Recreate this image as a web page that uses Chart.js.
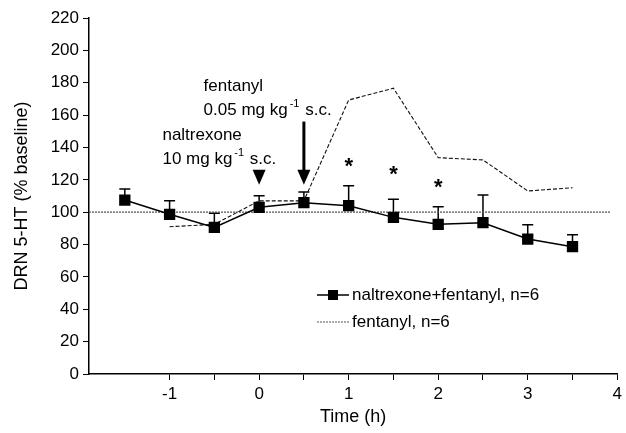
<!DOCTYPE html>
<html>
<head>
<meta charset="utf-8">
<script src="https://cdn.jsdelivr.net/npm/chart.js@4/dist/chart.umd.min.js"></script>
<style>
  html, body { margin: 0; padding: 0; background: #fff; }
  #wrap { width: 626px; height: 433px; }
</style>
</head>
<body>
<div id="wrap"><canvas id="c" width="626" height="433"></canvas></div>
<script>
// ---- Data ----
const timeNF = [-1.5, -1, -0.5, 0, 0.5, 1, 1.5, 2, 2.5, 3, 3.5];
const meanNF = [107.5, 98.7, 90.6, 103, 105.9, 104, 96.8, 92.5, 93.5, 83.4, 78.7];
const semNF  = [6.8, 8.4, 8.7, 7.2, 6.6, 12.4, 11.2, 10.9, 17.1, 8.9, 7.3];

const timeF = [-1, -0.5, 0, 0.5, 1, 1.5, 2, 2.5, 3, 3.5];
const meanF = [91, 92.5, 107, 107, 169.3, 176.6, 133.7, 132.3, 113.1, 115.1];

const baselineX = [-1.9, 3.92];
const baselineY = [100, 100];

const xTickValues = [-1, -0.5, 0, 0.5, 1, 1.5, 2, 2.5, 3, 3.5, 4];
const yTickStep = 20;

const labelNF = 'naltrexone+fentanyl, n=6';
const labelF = 'fentanyl, n=6';

// annotation anchors (data coordinates)
const asteriskX = [1, 1.5, 2];
const asteriskY = [131, 126, 118];
const arrowX = [0, 0.5];           // triangle at 0, arrow at 0.5
const arrowTipY = 117;

const FONT = '"Liberation Sans", Arial, Helvetica, sans-serif';

const toXY = (xs, ys) => xs.map((x, i) => ({ x: x, y: ys[i] }));

const annotPlugin = {
  id: 'annot',
  beforeDatasetsDraw(chart) {
    const { ctx } = chart;
    const xs = chart.scales.x, ys = chart.scales.y;
    // error bars (upper only)
    ctx.save();
    ctx.strokeStyle = '#000';
    ctx.lineWidth = 1.5;
    timeNF.forEach((t, i) => {
      const px = xs.getPixelForValue(t);
      const p0 = ys.getPixelForValue(meanNF[i]);
      const p1 = ys.getPixelForValue(meanNF[i] + semNF[i]);
      ctx.beginPath();
      ctx.moveTo(px, p0); ctx.lineTo(px, p1);
      ctx.moveTo(px - 5.5, p1); ctx.lineTo(px + 5.5, p1);
      ctx.stroke();
    });
    ctx.restore();
  },
  afterDraw(chart) {
    const { ctx } = chart;
    const xs = chart.scales.x, ys = chart.scales.y;
    ctx.save();
    ctx.fillStyle = '#000';
    ctx.strokeStyle = '#000';

    // arrows
    const tipPx = ys.getPixelForValue(arrowTipY);
    arrowX.forEach((t, i) => {
      const px = xs.getPixelForValue(t);
      ctx.beginPath();
      ctx.moveTo(px - 6.5, tipPx - 15);
      ctx.lineTo(px + 6.5, tipPx - 15);
      ctx.lineTo(px, tipPx);
      ctx.closePath();
      ctx.fill();
      if (i === 1) {
        ctx.lineWidth = 3;
        ctx.beginPath();
        ctx.moveTo(px, ys.getPixelForValue(156));
        ctx.lineTo(px, tipPx - 12);
        ctx.stroke();
      }
    });

    // text annotations
    ctx.textBaseline = 'middle';
    ctx.textAlign = 'left';
    const drawDose = (x, y, pre, post) => {
      ctx.font = '17px ' + FONT;
      ctx.fillText(pre, x, y);
      let w = ctx.measureText(pre).width + 2;
      ctx.font = '11px ' + FONT;
      ctx.fillText('-1', x + w, y - 6);
      w += ctx.measureText('-1').width + 1;
      ctx.font = '17px ' + FONT;
      ctx.fillText(post, x + w, y);
    };
    ctx.font = '17px ' + FONT;
    const fx = xs.getPixelForValue(-0.62);
    ctx.fillText('fentanyl', fx, ys.getPixelForValue(177.6));
    drawDose(fx, ys.getPixelForValue(163.2), '0.05 mg kg', ' s.c.');
    const nx = xs.getPixelForValue(-1.08);
    ctx.font = '17px ' + FONT;
    ctx.fillText('naltrexone', nx, ys.getPixelForValue(147.7));
    drawDose(nx, ys.getPixelForValue(132.7), '10 mg kg', ' s.c.');

    // asterisks
    ctx.textAlign = 'center';
    ctx.font = 'bold 22px ' + FONT;
    asteriskX.forEach((t, i) => {
      ctx.fillText('*', xs.getPixelForValue(t), ys.getPixelForValue(asteriskY[i]) + 5);
    });

    // legend
    const ds = chart.data.datasets;
    ctx.textAlign = 'left';
    ctx.font = '17px ' + FONT;
    // entry 1
    let ly = 295;
    ctx.lineWidth = 1.5;
    ctx.setLineDash([]);
    ctx.beginPath(); ctx.moveTo(317, ly); ctx.lineTo(349, ly); ctx.stroke();
    ctx.fillRect(333 - 5, ly - 5, 10, 10);
    ctx.fillText(ds[0].label, 352, ly);
    // entry 2
    ly = 322;
    ctx.lineWidth = 1;
    ctx.strokeStyle = '#555';
    ctx.setLineDash([2, 1]);
    ctx.beginPath(); ctx.moveTo(317, ly); ctx.lineTo(349, ly); ctx.stroke();
    ctx.setLineDash([]);
    ctx.fillText(ds[1].label, 352, ly);
    ctx.restore();
  }
};

new Chart(document.getElementById('c'), {
  type: 'line',
  data: {
    datasets: [
      {
        label: labelNF,
        data: toXY(timeNF, meanNF),
        borderColor: '#000',
        backgroundColor: '#000',
        borderWidth: 1.5,
        pointStyle: 'rect',
        pointRadius: 8,
        pointBorderWidth: 0,
        tension: 0
      },
      {
        label: labelF,
        data: toXY(timeF, meanF),
        borderColor: '#111',
        borderWidth: 1.1,
        borderDash: [4, 2],
        pointRadius: 0,
        tension: 0
      },
      {
        label: 'baseline',
        data: toXY(baselineX, baselineY),
        borderColor: '#555',
        borderWidth: 1.3,
        borderDash: [2, 1],
        pointRadius: 0,
        tension: 0
      }
    ]
  },
  options: {
    responsive: false,
    animation: false,
    events: [],
    layout: { padding: { top: 18, right: 5, left: 0, bottom: 0 } },
    plugins: { legend: { display: false }, tooltip: { enabled: false } },
    scales: {
      x: {
        type: 'linear',
        min: -1.9,
        max: 4,
        afterBuildTicks: (s) => { s.ticks = xTickValues.map(v => ({ value: v })); },
        afterFit: (s) => { s.height = 59; },
        ticks: {
          autoSkip: false,
          maxRotation: 0,
          color: '#000',
          padding: 4,
          font: { family: FONT, size: 17 },
          callback: (v) => Number.isInteger(v) ? String(v) : ''
        },
        grid: { drawOnChartArea: false, drawTicks: true, tickLength: 6, color: '#000', lineWidth: 1 },
        border: { display: true, color: '#000', width: 1.5 },
        title: {
          display: true, text: 'Time (h)', color: '#000',
          font: { family: FONT, size: 18 },
          padding: { top: 0, bottom: 5 }
        }
      },
      y: {
        min: 0,
        max: 220,
        afterFit: (s) => { s.width = 89; },
        ticks: {
          stepSize: yTickStep,
          color: '#000',
          padding: 4,
          font: { family: FONT, size: 17 }
        },
        grid: { drawOnChartArea: false, drawTicks: true, tickLength: 6, color: '#000', lineWidth: 1 },
        border: { display: true, color: '#000', width: 1.5 },
        title: {
          display: true, text: 'DRN 5-HT (% baseline)', color: '#000',
          font: { family: FONT, size: 18 },
          padding: { top: 11, bottom: 0 }
        }
      }
    }
  },
  plugins: [annotPlugin]
});
</script>
</body>
</html>
